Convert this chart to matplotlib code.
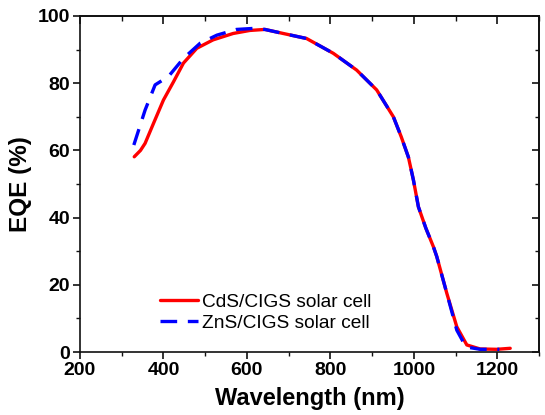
import matplotlib
matplotlib.use("Agg")
import matplotlib.pyplot as plt
from matplotlib.ticker import MultipleLocator

plt.rcParams['font.family'] = ['Liberation Sans', 'DejaVu Sans']

# CdS/CIGS solar cell
cds_wl = [330, 345, 356, 376, 400, 424, 448, 480, 519, 567, 607, 643, 687, 743,
          807, 863, 911, 951, 970, 987, 999, 1011, 1029, 1047, 1055, 1079, 1103,
          1127, 1159, 1199, 1231]
cds_eqe = [58.1, 60.0, 62.1, 68.0, 75.0, 80.4, 86.0, 90.4, 92.9, 94.8, 95.7, 96.0,
           94.8, 93.3, 88.9, 83.9, 78.0, 70.0, 64.0, 58.0, 51.2, 43.2, 36.8, 31.3,
           28.4, 17.5, 7.5, 2.1, 0.9, 0.8, 1.1]

# ZnS/CIGS solar cell
zns_wl = [329, 356, 380, 412, 448, 488, 528, 575, 615, 643, 687, 743, 807, 863,
          911, 951, 970, 987, 999, 1011, 1029, 1047, 1055, 1079, 1103, 1125, 1159,
          1205]
zns_eqe = [61.6, 72.0, 79.5, 82.0, 87.4, 91.9, 94.3, 96.0, 96.3, 96.0, 94.8, 93.3,
           88.9, 83.9, 78.0, 70.0, 64.0, 58.0, 51.2, 43.2, 36.8, 31.3, 28.4, 17.5,
           6.5, 1.5, 0.8, 0.8]

labels = ["CdS/CIGS solar cell", "ZnS/CIGS solar cell"]

fig = plt.figure(figsize=(5.45, 4.15), dpi=100)
ax = fig.add_axes([80/545, 1-352/415, (539-80)/545, (352-16)/415])

ax.plot(cds_wl, cds_eqe, color='#ff0000', lw=2.4, label=labels[0],
        solid_capstyle='round', solid_joinstyle='round')
ax.plot(zns_wl, zns_eqe, color='#0000ff', lw=2.4, ls=(0, (5, 3.2)), label=labels[1],
        dash_capstyle='butt', dash_joinstyle='round')

ax.set_xlim(200, 1300)
ax.set_ylim(0, 100)
ax.xaxis.set_major_locator(MultipleLocator(200))
ax.xaxis.set_minor_locator(MultipleLocator(100))
ax.yaxis.set_major_locator(MultipleLocator(20))
ax.yaxis.set_minor_locator(MultipleLocator(10))

for s in ax.spines.values():
    s.set_linewidth(1.2)
    s.set_color('#111111')

ax.tick_params(axis='both', which='major', direction='out', length=5, width=1.2,
               labelsize=14, pad=2, color='#111111')
ax.tick_params(axis='both', which='minor', direction='out', length=3, width=1.0,
               color='#111111')
for lab in ax.get_xticklabels() + ax.get_yticklabels():
    lab.set_fontweight('bold')

# mirrored inward ticks on top/right
secx = ax.secondary_xaxis('top')
secx.xaxis.set_major_locator(MultipleLocator(200))
secx.xaxis.set_minor_locator(MultipleLocator(100))
secx.tick_params(which='major', direction='in', length=6, width=1.2, labeltop=False, color='#111111')
secx.tick_params(which='minor', direction='in', length=3.5, width=1.0, color='#111111')
secx.spines['top'].set_linewidth(1.2)
secy = ax.secondary_yaxis('right')
secy.yaxis.set_major_locator(MultipleLocator(20))
secy.yaxis.set_minor_locator(MultipleLocator(10))
secy.tick_params(which='major', direction='in', length=5, width=1.2, labelright=False, color='#111111')
secy.tick_params(which='minor', direction='in', length=3, width=1.0, color='#111111')
secy.spines['right'].set_linewidth(1.2)

ax.set_xlabel("Wavelength (nm)", fontsize=17, fontweight='bold', labelpad=6)
ax.set_ylabel("EQE (%)", fontsize=17.5, fontweight='bold', labelpad=4)

ax.legend(loc='center left', bbox_to_anchor=((160-80)/459, (352-312.5)/336),
          frameon=False, fontsize=13.8, handlelength=2.0, handletextpad=0.2,
          labelspacing=0.2, borderpad=0, borderaxespad=0)

fig.savefig("out.png", dpi=100)
